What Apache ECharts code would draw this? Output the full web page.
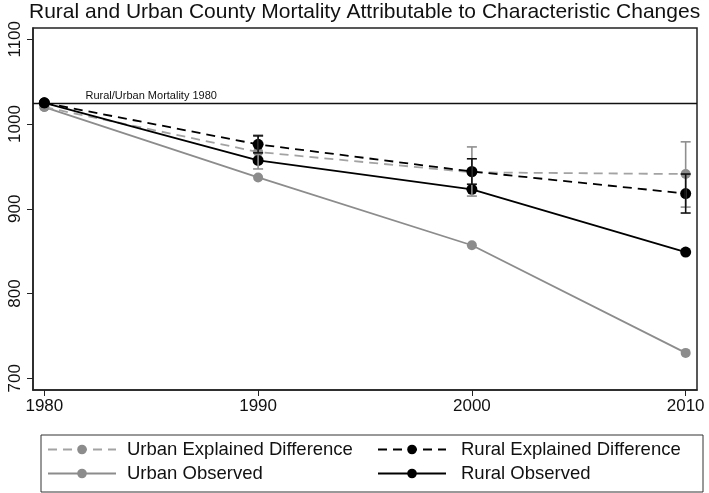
<!DOCTYPE html>
<html>
<head>
<meta charset="utf-8">
<script src="https://cdn.jsdelivr.net/npm/echarts@6/dist/echarts.min.js"></script>
<style>html,body{margin:0;padding:0;background:#fff}#c{width:709px;height:493px}</style>
</head>
<body>
<div id="c"></div>
<script>
const years = [1980, 1990, 2000, 2010];
const yTicks = [700, 800, 900, 1000, 1100];
const urbanExplained = [1020, 967, 943, 941];
const ruralExplained = [1025, 976, 944, 918];
const urbanObserved = [1020, 937, 857, 730];
const ruralObserved = [1025, 957, 923, 849];
const urbanExplLow = [null, 947, 915, 902];
const urbanExplHigh = [null, 987, 973, 979];
const ruralExplLow = [null, 966, 929, 895];
const ruralExplHigh = [null, 986, 959, 941];
const mortality1980 = 1025;
const refLabel = 'Rural/Urban Mortality 1980';
const refLabelYear = 1985;

const FONT = 'Liberation Sans';
const GRAY = '#8c8c8c';
const LGRAY = '#a3a3a3';

function pairs(vals) { return years.map((y, i) => [y, vals[i]]); }
function errData(lo, hi) {
  const out = [];
  years.forEach((y, i) => { if (lo[i] != null) out.push([y, lo[i], hi[i]]); });
  return out;
}
function errSeries(name, lo, hi, color) {
  return {
    type: 'custom', name: name, z: 10, silent: true,
    data: errData(lo, hi),
    encode: { x: 0, y: [1, 2] },
    renderItem: function (params, api) {
      const x = api.value(0);
      const p1 = api.coord([x, api.value(1)]);
      const p2 = api.coord([x, api.value(2)]);
      const w = 5;
      const st = { stroke: color, lineWidth: 1.6 };
      return { type: 'group', children: [
        { type: 'line', shape: { x1: p1[0], y1: p1[1], x2: p2[0], y2: p2[1] }, style: st },
        { type: 'line', shape: { x1: p1[0] - w, y1: p1[1], x2: p1[0] + w, y2: p1[1] }, style: st },
        { type: 'line', shape: { x1: p2[0] - w, y1: p2[1], x2: p2[0] + w, y2: p2[1] }, style: st }
      ]};
    }
  };
}

const chart = echarts.init(document.getElementById('c'), null, { renderer: 'canvas' });
chart.setOption({
  animation: false,
  backgroundColor: '#fff',
  textStyle: { fontFamily: FONT },
  title: {
    text: 'Rural and Urban County Mortality Attributable to Characteristic Changes',
    left: 29, top: 2, padding: 0,
    textStyle: { fontFamily: FONT, fontSize: 21, fontWeight: 'normal', color: '#111' }
  },
  grid: { left: 33, right: 12, top: 28, bottom: 103, show: true, borderColor: '#222', borderWidth: 1.5, backgroundColor: '#fff' },
  xAxis: {
    type: 'value', min: 1979.47, max: 2010.53,
    splitLine: { show: false },
    axisLine: { show: true, lineStyle: { color: '#222', width: 1.5 } },
    axisTick: { show: true, length: 6, customValues: years, lineStyle: { color: '#222', width: 1 } },
    axisLabel: { customValues: years, fontSize: 17, color: '#111', margin: 8, fontFamily: FONT, formatter: v => String(v) }
  },
  yAxis: {
    type: 'value', min: 686.2, max: 1113.3,
    splitLine: { show: false },
    axisLine: { show: true, lineStyle: { color: '#222', width: 1.5 } },
    axisTick: { show: true, length: 6, customValues: yTicks, lineStyle: { color: '#222', width: 1 } },
    axisLabel: { customValues: yTicks, fontSize: 17, color: '#111', rotate: 90, margin: 9, fontFamily: FONT, formatter: v => String(v) }
  },
  legend: [
    {
      orient: 'vertical', left: 47, top: 440, itemGap: 5, itemWidth: 68, itemHeight: 12, padding: 0,
      data: ['Urban Explained Difference', 'Urban Observed'],
      textStyle: { fontSize: 18.5, color: '#111', fontFamily: FONT, padding: [0, 0, 0, 6] }
    },
    {
      orient: 'vertical', left: 377, top: 440, itemGap: 5, itemWidth: 68, itemHeight: 12, padding: 0,
      data: ['Rural Explained Difference', 'Rural Observed'],
      textStyle: { fontSize: 18.5, color: '#111', fontFamily: FONT, padding: [0, 0, 0, 10] }
    }
  ],
  graphic: [{
    type: 'rect', left: 38.5, top: 432.5, silent: true,
    shape: { x: 0.5, y: 0.5, width: 662, height: 57 },
    style: { fill: 'none', stroke: '#333', lineWidth: 1 }
  }],
  series: [
    {
      name: 'Urban Observed', type: 'line', data: pairs(urbanObserved),
      symbol: 'circle', symbolSize: 10, z: 2,
      lineStyle: { color: GRAY, width: 1.8 }, itemStyle: { color: GRAY }
    },
    {
      name: 'Urban Explained Difference', type: 'line', data: pairs(urbanExplained),
      symbol: 'circle', symbolSize: 10, z: 3,
      lineStyle: { color: LGRAY, width: 1.8, type: [9, 6] }, itemStyle: { color: GRAY }
    },
    {
      name: 'Rural Observed', type: 'line', data: pairs(ruralObserved),
      symbol: 'circle', symbolSize: 11, z: 4,
      lineStyle: { color: '#000', width: 1.8 }, itemStyle: { color: '#000' },
      markLine: {
        silent: true, symbol: 'none', label: { show: false },
        lineStyle: { color: '#111', width: 1.3, type: 'solid' },
        data: [{ yAxis: mortality1980 }]
      },
      markPoint: {
        silent: true, symbol: 'circle', symbolSize: 0,
        data: [{ coord: [refLabelYear, mortality1980] }],
        label: { show: true, position: 'top', distance: 1, formatter: refLabel, fontSize: 11, color: '#111', fontFamily: FONT }
      }
    },
    {
      name: 'Rural Explained Difference', type: 'line', data: pairs(ruralExplained),
      symbol: 'circle', symbolSize: 11, z: 5,
      lineStyle: { color: '#000', width: 1.8, type: [9, 6] }, itemStyle: { color: '#000' }
    },
    errSeries('urbanErr', urbanExplLow, urbanExplHigh, '#8f8f8f'),
    errSeries('ruralErr', ruralExplLow, ruralExplHigh, '#111')
  ]
});
</script>
</body>
</html>
